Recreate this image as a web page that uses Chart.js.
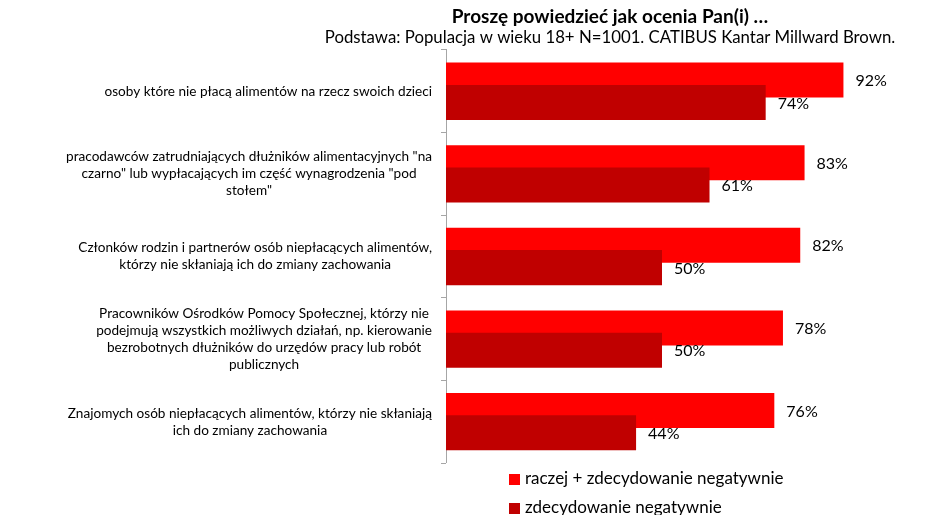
<!DOCTYPE html>
<html>
<head>
<meta charset="utf-8">
<script src="https://cdn.jsdelivr.net/npm/chart.js@4.4.1/dist/chart.umd.min.js"></script>
<style>
  html, body { margin: 0; background: #fff; }
  #wrap { width: 945px; height: 515px; }
</style>
</head>
<body>
<div id="wrap"><canvas id="myChart"></canvas></div>
<script>
const categories = [
    ['osoby które nie płacą alimentów na rzecz swoich dzieci'],
    ['pracodawców zatrudniających dłużników alimentacyjnych "na', 'czarno" lub wypłacających im część wynagrodzenia "pod', 'stołem"'],
    ['Członków rodzin i partnerów osób niepłacących alimentów,', 'którzy nie skłaniają ich do zmiany zachowania'],
    ['Pracowników Ośrodków Pomocy Społecznej, którzy nie', 'podejmują wszystkich możliwych działań, np. kierowanie', 'bezrobotnych dłużników do urzędów pracy lub robót', 'publicznych'],
    ['Znajomych osób niepłacących alimentów, którzy nie skłaniają', 'ich do zmiany zachowania']
];
const seriesNames = ['raczej + zdecydowanie negatywnie', 'zdecydowanie negatywnie'];
const ratherOrStrongly = [92, 83, 82, 78, 76];
const strongly = [74, 61, 50, 50, 44];

const FONT = 'Lato';

// dark bars overlap the red ones, so draw them last
const darkOnTop = {
    id: 'darkOnTop',
    beforeDatasetDraw(chart, args) {
        if (args.index === 1) return false;
    },
    afterDatasetsDraw(chart) {
        const ctx = chart.ctx;
        ctx.save();
        chart.getDatasetMeta(1).controller.draw();
        ctx.restore();

        // value labels
        ctx.save();
        ctx.font = '16px ' + FONT;
        ctx.fillStyle = '#000';
        ctx.textAlign = 'left';
        ctx.textBaseline = 'middle';
        chart.data.datasets.forEach((ds, di) => {
            chart.getDatasetMeta(di).data.forEach((bar, i) => {
                ctx.fillText(ds.data[i] + '%', bar.x + 12, bar.y + 1);
            });
        });
        ctx.restore();
    }
};

// category labels: block right aligned, lines centred inside it
const yLabels = {
    id: 'yLabels',
    afterDraw(chart) {
        const { ctx } = chart;
        const y = chart.scales.y;
        ctx.save();
        ctx.font = '13.6px ' + FONT;
        ctx.fillStyle = '#000';
        ctx.textAlign = 'center';
        ctx.textBaseline = 'middle';
        const right = y.right - 14;
        categories.forEach((lines, i) => {
            const w = Math.max(...lines.map(l => ctx.measureText(l).width));
            const cx = right - w / 2;
            const yc = y.getPixelForValue(i);
            lines.forEach((l, j) => {
                ctx.fillText(l, cx, yc + (j - (lines.length - 1) / 2) * 17);
            });
        });
        ctx.restore();
    }
};

// vertical legend under the plot
const stackedLegend = {
    id: 'stackedLegend',
    afterDraw(chart) {
        const { ctx, chartArea } = chart;
        ctx.save();
        ctx.font = '17px ' + FONT;
        ctx.textAlign = 'left';
        ctx.textBaseline = 'middle';
        chart.data.datasets.forEach((ds, i) => {
            const yc = chartArea.bottom + 16 + i * 29;
            const x = chartArea.left + 63;
            ctx.fillStyle = ds.backgroundColor;
            ctx.fillRect(x, yc - 5, 11, 11);
            ctx.fillStyle = '#000';
            ctx.fillText(ds.label, x + 16, yc);
        });
        ctx.restore();
    }
};

const ctx = document.getElementById('myChart').getContext('2d');
new Chart(ctx, {
    type: 'bar',
    data: {
        labels: categories,
        datasets: [{
            label: seriesNames[0],
            data: ratherOrStrongly,
            backgroundColor: '#ff0000'
        }, {
            label: seriesNames[1],
            data: strongly,
            backgroundColor: '#c00000'
        }]
    },
    options: {
        indexAxis: 'y',
        responsive: true,
        maintainAspectRatio: false,
        animation: false,
        categoryPercentage: 0.54,
        barPercentage: 1.57,
        layout: { padding: { left: 322, right: 47, top: 0, bottom: 52 } },
        scales: {
            x: { display: false, min: 0, max: 100 },
            y: {
                ticks: { display: false },
                grid: { drawOnChartArea: false, tickLength: 5, color: '#a6a6a6' },
                border: { color: '#a6a6a6' },
                afterFit(scale) { scale.width = 124; }
            },
            // empty axis on the right, only keeps some room after 100%
            yRight: {
                type: 'category',
                position: 'right',
                ticks: { display: false },
                grid: { display: false },
                border: { display: false },
                afterFit(scale) { scale.width = 20; }
            }
        },
        plugins: {
            legend: { display: false },
            title: {
                display: true,
                text: 'Proszę powiedzieć jak ocenia Pan(i) …',
                color: '#000',
                font: { family: FONT, size: 19, weight: 'bold' },
                padding: { top: 5, bottom: 0 }
            },
            subtitle: {
                display: true,
                text: 'Podstawa: Populacja w wieku 18+ N=1001. CATIBUS Kantar Millward Brown.',
                color: '#000',
                font: { family: FONT, size: 16.8 },
                padding: { top: 0, bottom: 2 }
            }
        }
    },
    plugins: [darkOnTop, yLabels, stackedLegend]
});
</script>
</body>
</html>
